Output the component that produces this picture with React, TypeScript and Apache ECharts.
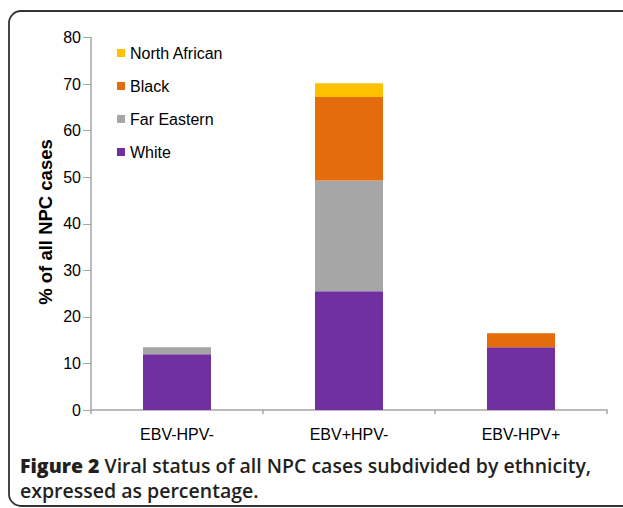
import React, { useEffect, useRef } from "react";
import * as echarts from "echarts";

const categories = ["EBV-HPV-", "EBV+HPV-", "EBV-HPV+"];
const white = [12.0, 25.5, 13.5];
const farEastern = [1.5, 23.8, 0];
const black = [0, 17.9, 3.0];
const northAfrican = [0, 3.0, 0];
const yTicks = { min: 0, max: 80, interval: 10 };
const yTitle = "% of all NPC cases";
const captionBold = "Figure 2";
const captionLine1 = " Viral status of all NPC cases subdivided by ethnicity,";
const captionLine2 = "expressed as percentage.";

export default function App() {
  const ref = useRef<HTMLDivElement>(null);
  useEffect(() => {
    if (!ref.current) return;
    const chart = echarts.init(ref.current, undefined, { renderer: "svg" });
    const axisFont = "Liberation Sans, Arial, Helvetica, sans-serif";
    const capFont = "Open Sans, sans-serif";
    const mk = (name: string, data: number[], color: string) => ({
      name,
      type: "bar",
      stack: "total",
      data,
      barWidth: 68,
      itemStyle: { color },
      emphasis: { disabled: true },
    });
    chart.setOption({
      animation: false,
      backgroundColor: "#ffffff",
      grid: { left: 91, right: 16, top: 37.5, bottom: 98, containLabel: false },
      legend: {
        data: ["North African", "Black", "Far Eastern", "White"],
        orient: "vertical",
        left: 112,
        top: 40,
        itemWidth: 8,
        itemHeight: 8,
        itemGap: 17,
        icon: "rect",
        selectedMode: false,
        textStyle: { fontSize: 16, color: "#000", fontFamily: axisFont, lineHeight: 16 },
      },
      xAxis: {
        type: "category",
        data: categories,
        axisLine: { lineStyle: { color: "#a6a6a6", width: 1.5 } },
        axisTick: { show: true, length: 4, lineStyle: { color: "#a6a6a6", width: 1.5 } },
        axisLabel: { fontSize: 16, color: "#000", fontFamily: axisFont, margin: 16 },
      },
      yAxis: {
        type: "value",
        min: yTicks.min,
        max: yTicks.max,
        interval: yTicks.interval,
        splitLine: { show: false },
        axisLine: { show: true, lineStyle: { color: "#a6a6a6", width: 1.5 } },
        axisTick: { show: true, length: 8, lineStyle: { color: "#a6a6a6", width: 1 } },
        axisLabel: { fontSize: 16, color: "#000", fontFamily: axisFont, margin: 10 },
      },
      series: [
        mk("White", white, "#7030a0"),
        mk("Far Eastern", farEastern, "#a6a6a6"),
        mk("Black", black, "#e46c0a"),
        mk("North African", northAfrican, "#ffc000"),
      ],
      graphic: [
        {
          type: "rect",
          shape: { x: 9, y: 11, width: 700, height: 495, r: 12 },
          style: { fill: "none", stroke: "#333", lineWidth: 1.8 },
          silent: true,
        },
        {
          type: "text",
          x: 45,
          y: 222,
          rotation: Math.PI / 2,
          style: {
            text: yTitle,
            fontSize: 18.5,
            fontWeight: "bold",
            fontFamily: axisFont,
            fill: "#000",
            align: "center",
            verticalAlign: "middle",
          },
        },
        {
          type: "text",
          x: 20,
          y: 465,
          style: {
            text: "{b|" + captionBold + "}{r|" + captionLine1 + "}",
            verticalAlign: "middle",
            rich: {
              b: { fontFamily: capFont, fontSize: 19.5, fontWeight: 800, fill: "#231f20" },
              r: { fontFamily: capFont, fontSize: 19.5, fontWeight: 600, fill: "#231f20" },
            },
          },
        },
        {
          type: "text",
          x: 20,
          y: 490,
          style: {
            text: captionLine2,
            verticalAlign: "middle",
            fontFamily: capFont,
            fontSize: 19.5,
            fontWeight: 600,
            fill: "#231f20",
          },
        },
      ],
    });
    return () => chart.dispose();
  }, []);
  return (
    <div
      ref={ref}
      style={{ position: "fixed", left: 0, top: 0, width: 623, height: 508 }}
    />
  );
}
